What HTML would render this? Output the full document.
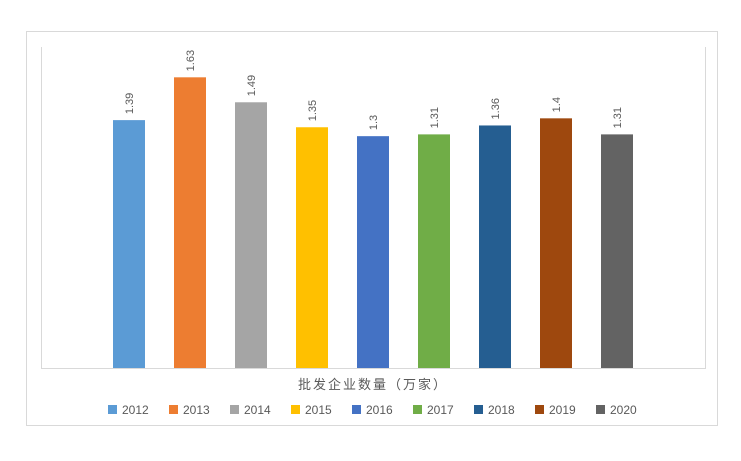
<!DOCTYPE html>
<html><head><meta charset="utf-8"><style>
body{margin:0;background:#fff;}
svg text{font-family:"Liberation Sans","Noto Sans CJK SC",sans-serif;}
</style></head><body>
<svg width="741" height="456" viewBox="0 0 741 456">
<rect x="26.5" y="31.5" width="691" height="394" fill="#fff" stroke="#d9d9d9"/>
<line x1="41.5" y1="47" x2="41.5" y2="368" stroke="#d9d9d9"/>
<line x1="705.5" y1="47" x2="705.5" y2="368" stroke="#d9d9d9"/>
<g id="bars"></g>
<line x1="41" y1="368.5" x2="706" y2="368.5" stroke="#d9d9d9"/>
<text x="373" y="389" text-anchor="middle" font-size="13" fill="#595959" letter-spacing="2">批发企业数量（万家）</text>
<g id="legend"></g>
</svg>
<script>
const categories=["2012","2013","2014","2015","2016","2017","2018","2019","2020"];
const values=[1.39,1.63,1.49,1.35,1.3,1.31,1.36,1.4,1.31];
const colors=["#5b9bd5","#ed7d31","#a5a5a5","#ffc000","#4472c4","#70ad47","#255e91","#9e480e","#636363"];
const NS="http://www.w3.org/2000/svg";
const y0=368,yMax=1.8,yTop=47;
function y(v){return y0-(v/yMax)*(y0-yTop);}
function x(i){return 113+i*61;}
const bw=32;
const bars=document.getElementById('bars');
values.forEach((v,i)=>{
  const r=document.createElementNS(NS,'rect');
  
  
  r.setAttribute('x',x(i));r.setAttribute('y',y(v));r.setAttribute('width',bw);r.setAttribute('height',y0-y(v));r.setAttribute('fill',colors[i]);
  bars.appendChild(r);
  const t=document.createElementNS(NS,'text');
  
  
  const cx=x(i)+bw/2+4, cy=y(v)-6;
  t.setAttribute('transform','translate('+cx+','+cy+') rotate(-90)');
  t.setAttribute('font-size','11');t.setAttribute('fill','#595959');
  t.textContent=String(v);
  bars.appendChild(t);
});
const lg=document.getElementById('legend');
categories.forEach((c,i)=>{
  const lx=108+i*61;
  const s=document.createElementNS(NS,'rect');
  
  
  s.setAttribute('x',lx);s.setAttribute('y',405);s.setAttribute('width',9);s.setAttribute('height',9);s.setAttribute('fill',colors[i]);
  lg.appendChild(s);
  const t=document.createElementNS(NS,'text');
  
  
  t.setAttribute('x',lx+14);t.setAttribute('y',414);t.setAttribute('font-size','12');t.setAttribute('fill','#595959');
  t.textContent=c;
  lg.appendChild(t);
});
</script>
</body></html>
